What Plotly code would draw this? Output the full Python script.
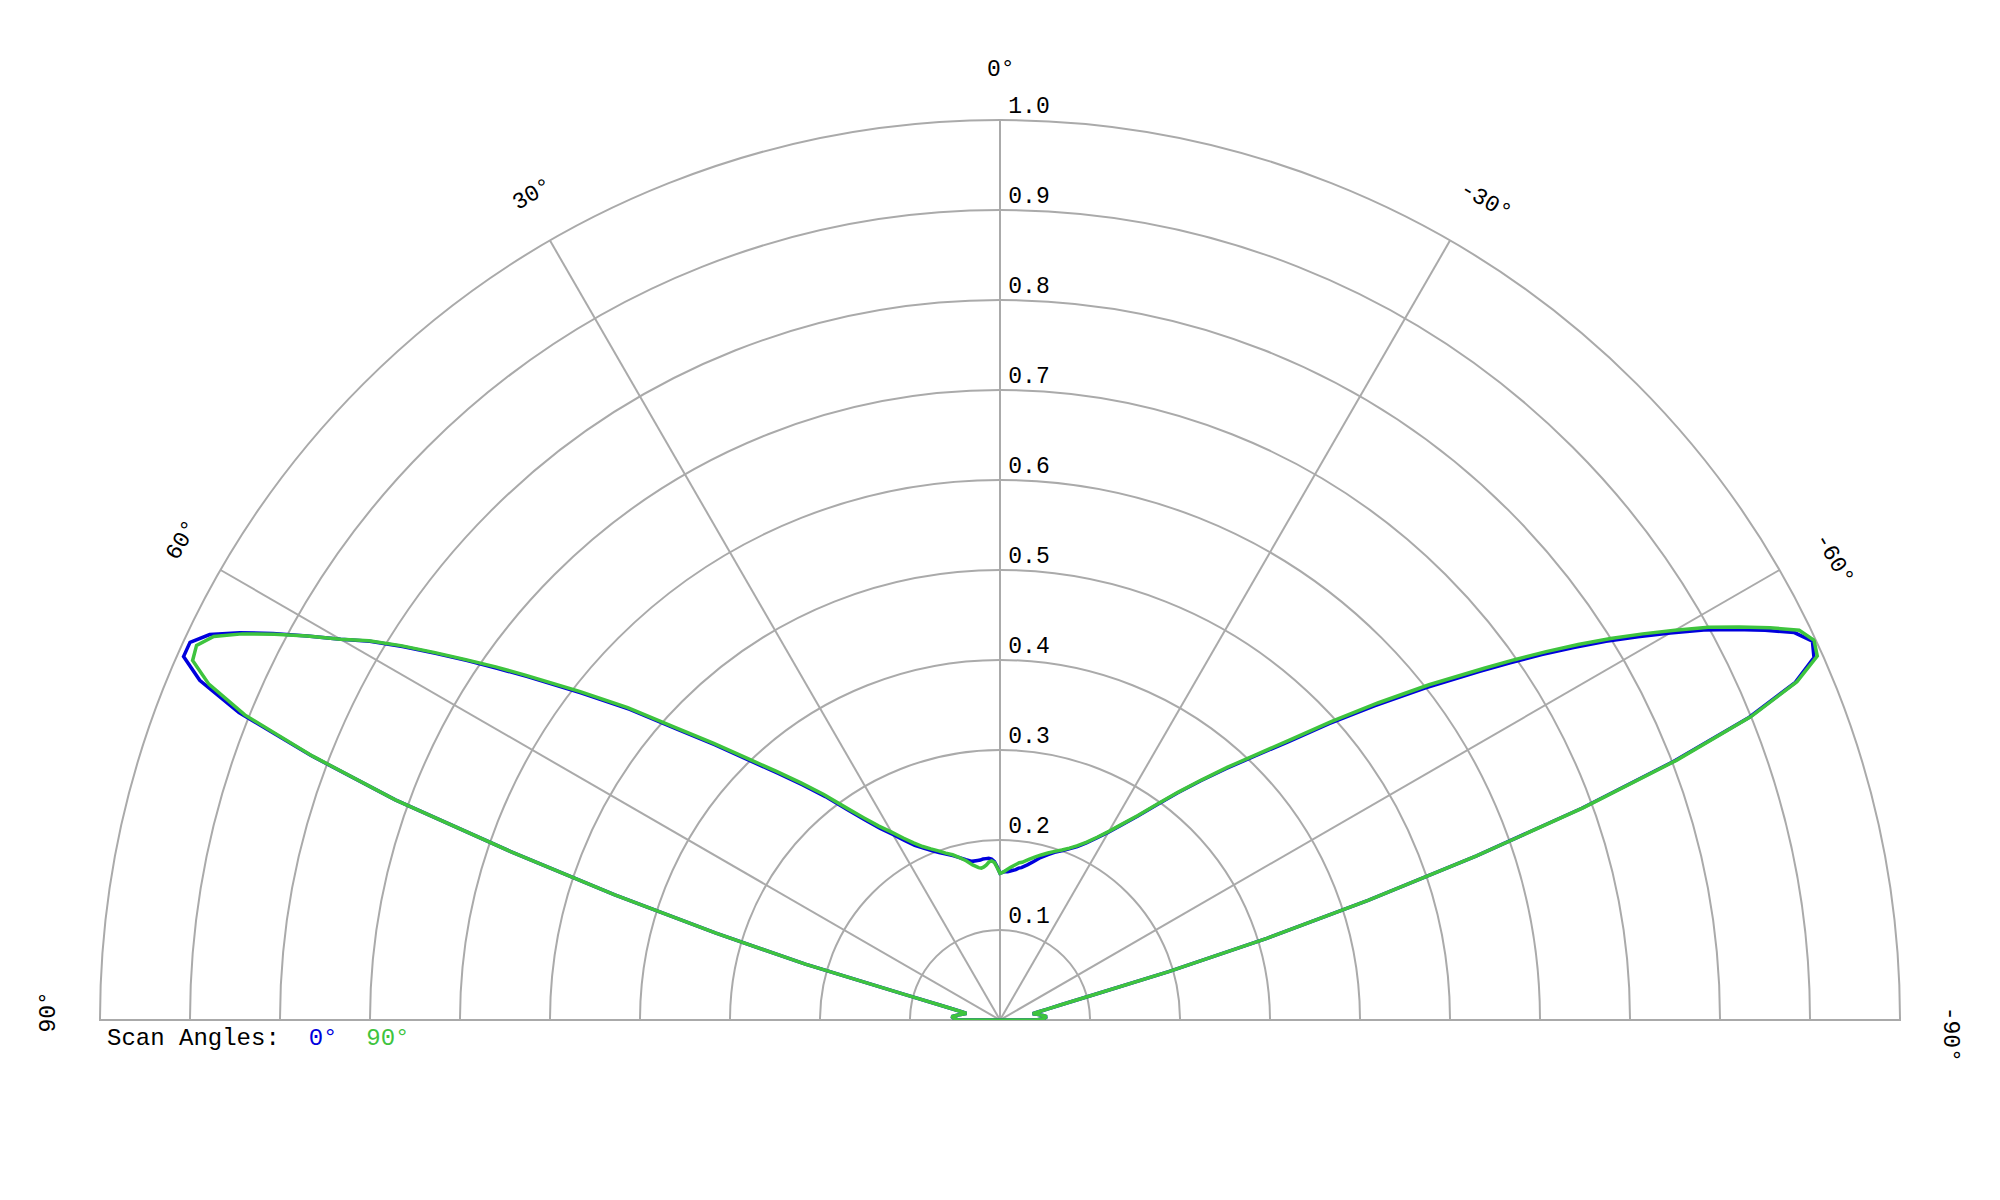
import plotly.graph_objects as go

# scan angle (deg) and normalised pattern
theta = [
    -90, -88, -86, -84, -82, -80, -79, -78, -77, -76, -75, -74, -73, -72, -71,
    -70, -69, -68, -67, -66, -65, -64, -63, -62, -61, -60, -59, -58, -57, -56,
    -55, -54, -52, -50, -48, -46, -44, -42, -40, -38, -36, -34, -32, -30, -28,
    -26, -24, -22, -20, -18, -16, -14, -12, -10, -8, -7, -6, -5, -4, -3, -2, -1,
    0,
    1, 2, 3, 4, 5, 6, 7, 8, 10, 12, 14, 16, 18, 20, 22, 24, 26, 28, 30, 32, 34,
    36, 38, 40, 42, 44, 46, 48, 50, 52, 54, 55, 56, 57, 58, 59, 60, 61, 62, 63,
    64, 65, 66, 67, 68, 69, 70, 71, 72, 73, 74, 75, 76, 77, 78, 79, 80, 82, 84,
    86, 88, 90,
]

r_scan_90 = [
    0.040, 0.049, 0.052, 0.048, 0.043, 0.039, 0.037, 0.044, 0.054, 0.070, 0.105,
    0.195, 0.310, 0.430, 0.560,
    0.690, 0.805, 0.900, 0.962, 0.994, 0.998, 0.988, 0.960, 0.930, 0.900, 0.866,
    0.833, 0.800, 0.766, 0.732,
    0.698, 0.665, 0.605, 0.548, 0.496, 0.448, 0.410, 0.378, 0.348, 0.321, 0.296,
    0.274, 0.257, 0.242, 0.230,
    0.220, 0.212, 0.206, 0.201, 0.197, 0.193, 0.189, 0.185, 0.181, 0.177, 0.176,
    0.174, 0.172, 0.170, 0.168, 0.166, 0.164,
    0.163,
    0.169, 0.175, 0.177, 0.176, 0.173, 0.171, 0.170, 0.171, 0.175, 0.181, 0.186,
    0.191, 0.195, 0.200, 0.205, 0.211, 0.219, 0.229, 0.241, 0.254, 0.271,
    0.292, 0.318, 0.344, 0.372, 0.404, 0.443, 0.486, 0.540, 0.593, 0.652, 0.684,
    0.716, 0.750, 0.785, 0.818, 0.846, 0.880, 0.913, 0.945,
    0.972, 0.985, 0.982, 0.955, 0.905, 0.818, 0.715, 0.575, 0.450, 0.330, 0.225,
    0.110, 0.070, 0.052, 0.042, 0.038, 0.040, 0.044, 0.049,
    0.054, 0.051, 0.046,
]

r_scan_0 = [
    0.040, 0.049, 0.052, 0.048, 0.043, 0.039, 0.037, 0.044, 0.054, 0.070, 0.105,
    0.195, 0.310, 0.430, 0.560,
    0.688, 0.802, 0.898, 0.960, 0.990, 0.996, 0.982, 0.954, 0.924, 0.894, 0.860,
    0.827, 0.794, 0.760, 0.726,
    0.692, 0.659, 0.599, 0.543, 0.492, 0.445, 0.408, 0.376, 0.347, 0.320, 0.295,
    0.273, 0.256, 0.241, 0.229,
    0.219, 0.211, 0.205, 0.200, 0.196, 0.191, 0.186, 0.180, 0.175, 0.171, 0.170,
    0.168, 0.167, 0.166, 0.165, 0.165, 0.164,
    0.163,
    0.170, 0.176, 0.179, 0.180, 0.180, 0.180, 0.179, 0.179, 0.179, 0.182, 0.186,
    0.190, 0.194, 0.198, 0.203, 0.209, 0.216, 0.226, 0.238, 0.251, 0.268,
    0.289, 0.315, 0.341, 0.369, 0.401, 0.440, 0.483, 0.537, 0.590, 0.649, 0.681,
    0.714, 0.748, 0.783, 0.817, 0.846, 0.880, 0.915, 0.948,
    0.977, 0.993, 0.993, 0.966, 0.912, 0.820, 0.715, 0.575, 0.450, 0.330, 0.225,
    0.110, 0.070, 0.052, 0.042, 0.038, 0.040, 0.044, 0.049,
    0.054, 0.051, 0.046,
]

radial_ticks = [0.1, 0.2, 0.3, 0.4, 0.5, 0.6, 0.7, 0.8, 0.9, 1.0]
angle_ticks = [-90, -60, -30, 0, 30, 60, 90]

BLUE = "#0000dd"
GREEN = "#3ec43e"
GRID = "#aaaaaa"
FONT = "Liberation Mono, Courier New, monospace"

fig = go.Figure()

# close each curve back to its first point, as in the original
for name, r, color in [("0°", r_scan_0, BLUE), ("90°", r_scan_90, GREEN)]:
    fig.add_trace(
        go.Scatterpolar(
            r=r + r[:1],
            theta=theta + theta[:1],
            mode="lines",
            name=name,
            line=dict(color=color, width=3.5),
            cliponaxis=False,
            showlegend=False,
        )
    )

# small gap before each radial label, blank second line lifts it above the ring
gap = "<span style='font-size:13px'>&nbsp;</span>"

fig.update_layout(
    width=2000,
    height=1200,
    paper_bgcolor="white",
    margin=dict(l=92, r=108, t=112, b=188),
    font=dict(family=FONT, size=24, color="black"),
    polar=dict(
        domain=dict(x=[0, 1], y=[0, 1]),
        sector=[0, 180],
        bgcolor="white",
        radialaxis=dict(
            range=[0, 1],
            tickvals=radial_ticks,
            ticktext=[f"{gap}{v:.1f}<br>&nbsp;" for v in radial_ticks],
            angle=90,
            tickangle=90,
            side="clockwise",
            showline=False,
            ticks="",
            gridcolor=GRID,
            gridwidth=2,
            layer="below traces",
            tickfont=dict(family=FONT, size=23, color="black"),
        ),
        angularaxis=dict(
            rotation=90,
            direction="counterclockwise",
            tickvals=angle_ticks,
            showticklabels=False,
            ticks="",
            gridcolor=GRID,
            gridwidth=2,
            showline=True,
            linecolor=GRID,
            linewidth=2,
            layer="below traces",
        ),
    ),
)

# angular labels, turned along the rim like the original
rim_labels = [
    ("0°", 0.5005, 1.0555, 0),
    ("30°", 0.2400, 0.9166, -30),
    ("60°", 0.0460, 0.5330, -60),
    ("90°", -0.0286, 0.0089, -90),
    ("-30°", 0.7695, 0.9100, 30),
    ("-60°", 0.9630, 0.5120, 60),
    ("-90°", 1.0280, -0.0156, 90),
]
for text, x, y, angle in rim_labels:
    fig.add_annotation(
        text=text,
        xref="paper",
        yref="paper",
        x=x,
        y=y,
        xanchor="center",
        yanchor="middle",
        textangle=angle,
        showarrow=False,
        font=dict(family=FONT, size=23, color="black"),
    )

fig.add_annotation(
    text=(
        "Scan Angles:&nbsp;&nbsp;"
        f"<span style='color:{BLUE}'>0°</span>&nbsp;&nbsp;"
        f"<span style='color:{GREEN}'>90°</span>"
    ),
    xref="paper",
    yref="paper",
    x=0.0028,
    y=-0.02,
    xanchor="left",
    yanchor="middle",
    showarrow=False,
    font=dict(family=FONT, size=24, color="black"),
)

fig.write_html("out.html")
